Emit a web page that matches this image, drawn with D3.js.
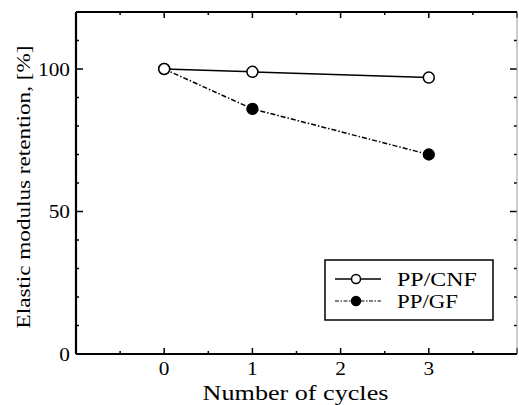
<!DOCTYPE html>
<html>
<head>
<meta charset="utf-8">
<script src="https://cdn.jsdelivr.net/npm/d3@7"></script>
<style>
  html, body { margin: 0; padding: 0; background: #fff; }
  svg text { font-family: "Liberation Serif", "Times New Roman", Times, serif; fill: #000; }
</style>
</head>
<body>
<div id="chart"></div>
<script>
// ---- data ----
var cycles = [0, 1, 3];
var cnfValues = [100, 99, 97];
var gfValues = [100, 86, 70];
var seriesNames = ['PP/CNF', 'PP/GF'];
var xTickLabels = [0, 1, 2, 3];
var yTickLabels = [0, 50, 100];

var W = 519, H = 405;
var margin = { left: 76, right: 2, top: 12, bottom: 51 };
var iw = W - margin.left - margin.right, ih = H - margin.top - margin.bottom;

var svg = d3.select('#chart').append('svg').attr('width', W).attr('height', H);
var g = svg.append('g').attr('transform', 'translate(' + margin.left + ',' + margin.top + ')');

var x = d3.scaleLinear().domain([-1, 4]).range([0, iw]);
var y = d3.scaleLinear().domain([0, 120]).range([ih, 0]);

// text squeezed/stretched horizontally to a target width (the reference face is wider than Times)
function fitText(parent, px, py, str, size, target, anchor, rot) {
  var wrap = parent.append('g');
  var t = wrap.append('text').attr('font-size', size).attr('text-anchor', anchor || 'start').text(str);
  var k = target / t.node().getComputedTextLength();
  wrap.attr('transform', 'translate(' + px + ',' + py + ')' + (rot ? ' rotate(' + rot + ')' : '') + ' scale(' + k + ',1)');
  return k;
}
function kText(parent, px, py, str, size, k, anchor) {
  parent.append('g').attr('transform', 'translate(' + px + ',' + py + ') scale(' + k + ',1)')
    .append('text').attr('font-size', size).attr('text-anchor', anchor).text(str);
}

// ---- ticks (inward) ----
var xMajor = d3.range(-1, 4.01, 1), xMinor = d3.range(-0.5, 4, 1);
var yMajor = d3.range(0, 121, 50), yMinor = d3.range(10, 120, 10).filter(function (v) { return v % 50; });
var ticks = g.append('g').attr('stroke', '#000').attr('stroke-width', 1.5);
function tickSet(vals, len, side) {
  vals.forEach(function (v) {
    if (side === 'b') ticks.append('line').attr('x1', x(v)).attr('x2', x(v)).attr('y1', ih).attr('y2', ih - len);
    if (side === 't') ticks.append('line').attr('x1', x(v)).attr('x2', x(v)).attr('y1', 0).attr('y2', len);
    if (side === 'l') ticks.append('line').attr('y1', y(v)).attr('y2', y(v)).attr('x1', 0).attr('x2', len);
    if (side === 'r') ticks.append('line').attr('y1', y(v)).attr('y2', y(v)).attr('x1', iw).attr('x2', iw - len);
  });
}
tickSet(xMajor, 6, 'b'); tickSet(xMinor, 3, 'b');
tickSet(xMajor, 6, 't'); tickSet(xMinor, 3, 't');
tickSet(yMajor, 7, 'l'); tickSet(yMinor, 3, 'l');
tickSet(yMajor, 7, 'r'); tickSet(yMinor, 3, 'r');

// ---- frame ----
g.append('line').attr('x1', iw).attr('x2', iw).attr('y1', 0).attr('y2', ih).attr('stroke', '#999').attr('stroke-width', 1);
g.append('line').attr('x1', 0).attr('x2', iw).attr('y1', 0).attr('y2', 0).attr('stroke', '#000').attr('stroke-width', 2);
g.append('line').attr('x1', 0).attr('x2', iw).attr('y1', ih).attr('y2', ih).attr('stroke', '#000').attr('stroke-width', 2.2);
g.append('line').attr('x1', 0).attr('x2', 0).attr('y1', 0).attr('y2', ih).attr('stroke', '#000').attr('stroke-width', 2.2);

// ---- tick labels (scale taken from "100" being ~32px wide) ----
var probe = g.append('text').attr('font-size', 19).text('100');
var kTick = 32 / probe.node().getComputedTextLength();
probe.remove();
xTickLabels.forEach(function (d) { kText(g, x(d), ih + 21, d, 19, kTick, 'middle'); });
yTickLabels.forEach(function (d) { kText(g, -6, y(d) + 6.5, d, 19, kTick, 'end'); });

// ---- axis titles ----
fitText(g, x(1.5) - 1, ih + 46, 'Number of cycles', 20, 186, 'middle');
fitText(svg, 30, 187, 'Elastic modulus retention, [%]', 19, 283, 'middle', -90);

// ---- series ----
var line = d3.line().x(function (d) { return x(d[0]); }).y(function (d) { return y(d[1]); });
var cnf = d3.zip(cycles, cnfValues), gf = d3.zip(cycles, gfValues);

g.append('path').datum(gf).attr('d', line).attr('fill', 'none')
  .attr('stroke', '#000').attr('stroke-width', 1.5).attr('stroke-dasharray', '5,2,1.5,2');
g.append('path').datum(cnf).attr('d', line).attr('fill', 'none')
  .attr('stroke', '#000').attr('stroke-width', 1.5);

g.selectAll('.gfm').data(gf).join('circle')
  .attr('cx', function (d) { return x(d[0]); }).attr('cy', function (d) { return y(d[1]); })
  .attr('r', 5.5).attr('fill', '#000').attr('stroke', '#000').attr('stroke-width', 1.3);
g.selectAll('.cnfm').data(cnf).join('circle')
  .attr('cx', function (d) { return x(d[0]); }).attr('cy', function (d) { return y(d[1]); })
  .attr('r', 5.5).attr('fill', '#fff').attr('stroke', '#000').attr('stroke-width', 1.5);

// ---- legend ----
var lg = svg.append('g').attr('transform', 'translate(325,260)');
lg.append('rect').attr('width', 168).attr('height', 60)
  .attr('fill', '#fff').attr('stroke', '#000').attr('stroke-width', 1.5);
var legendW = [80, 61];
seriesNames.forEach(function (name, i) {
  var row = lg.append('g').attr('transform', 'translate(0,' + (19 + i * 22) + ')');
  row.append('line').attr('x1', 10).attr('x2', 56).attr('y1', 0).attr('y2', 0)
    .attr('stroke', '#000').attr('stroke-width', i ? 1.2 : 1.5)
    .attr('stroke-dasharray', i ? '4,1.5,1.5,1.5' : null);
  row.append('circle').attr('cx', 31).attr('r', 4.5)
    .attr('fill', i ? '#000' : '#fff').attr('stroke', '#000').attr('stroke-width', 1.5);
  fitText(row, 72, 6.5, name, 18.5, legendW[i], 'start');
});
</script>
</body>
</html>
